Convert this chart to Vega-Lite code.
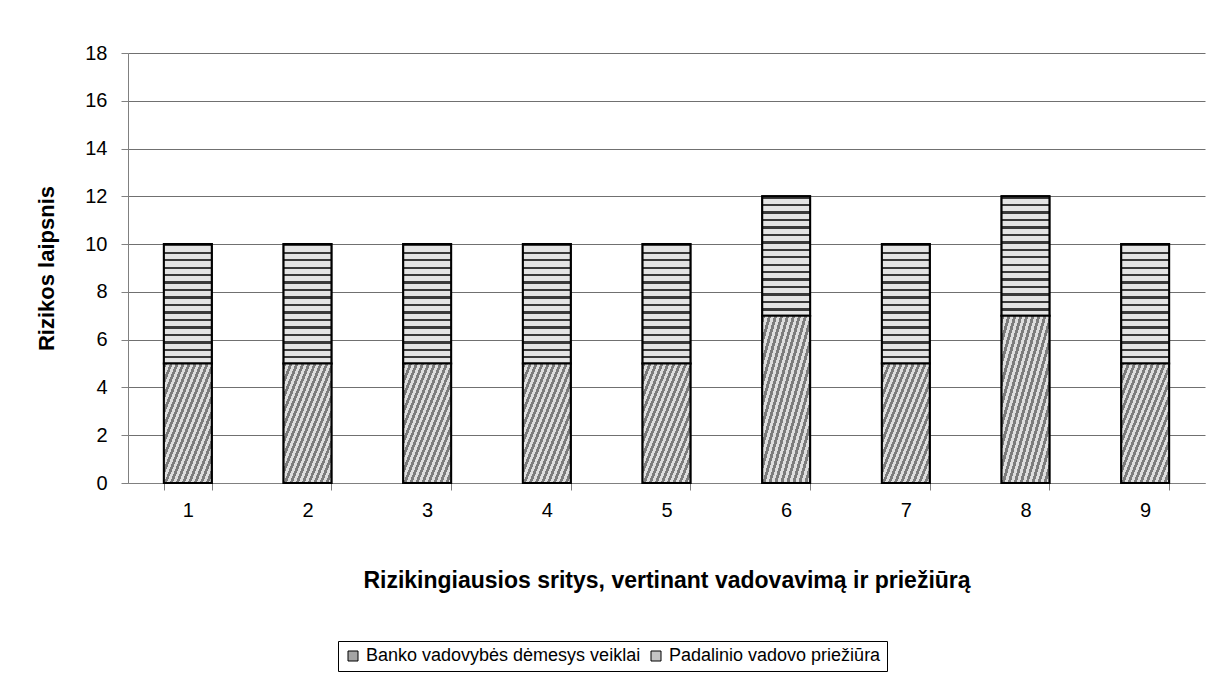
{
  "$schema": "https://vega.github.io/schema/vega-lite/v6.json",
  "autosize": {"type": "none"},
  "padding": {"left": 128, "top": 53, "right": 15, "bottom": 205},
  "width": 1077,
  "height": 430,
  "background": "white",
  "config": {
    "font": "Liberation Sans",
    "view": {"stroke": null},
    "axis": {"labelFont": "Liberation Sans", "titleFont": "Liberation Sans", "labelColor": "black", "titleColor": "black"}
  },
  "data": {
    "values": [
      {"cat": "1", "series": "Banko vadovybės dėmesys veiklai", "order": 1, "value": 5},
      {"cat": "1", "series": "Padalinio vadovo priežiūra", "order": 2, "value": 5},
      {"cat": "2", "series": "Banko vadovybės dėmesys veiklai", "order": 1, "value": 5},
      {"cat": "2", "series": "Padalinio vadovo priežiūra", "order": 2, "value": 5},
      {"cat": "3", "series": "Banko vadovybės dėmesys veiklai", "order": 1, "value": 5},
      {"cat": "3", "series": "Padalinio vadovo priežiūra", "order": 2, "value": 5},
      {"cat": "4", "series": "Banko vadovybės dėmesys veiklai", "order": 1, "value": 5},
      {"cat": "4", "series": "Padalinio vadovo priežiūra", "order": 2, "value": 5},
      {"cat": "5", "series": "Banko vadovybės dėmesys veiklai", "order": 1, "value": 5},
      {"cat": "5", "series": "Padalinio vadovo priežiūra", "order": 2, "value": 5},
      {"cat": "6", "series": "Banko vadovybės dėmesys veiklai", "order": 1, "value": 7},
      {"cat": "6", "series": "Padalinio vadovo priežiūra", "order": 2, "value": 5},
      {"cat": "7", "series": "Banko vadovybės dėmesys veiklai", "order": 1, "value": 5},
      {"cat": "7", "series": "Padalinio vadovo priežiūra", "order": 2, "value": 5},
      {"cat": "8", "series": "Banko vadovybės dėmesys veiklai", "order": 1, "value": 7},
      {"cat": "8", "series": "Padalinio vadovo priežiūra", "order": 2, "value": 5},
      {"cat": "9", "series": "Banko vadovybės dėmesys veiklai", "order": 1, "value": 5},
      {"cat": "9", "series": "Padalinio vadovo priežiūra", "order": 2, "value": 5}
    ]
  },
  "transform": [
    {"stack": "value", "groupby": ["cat"], "sort": [{"field": "order", "order": "ascending"}], "as": ["v0", "v1"]}
  ],
  "encoding": {
    "x": {
      "field": "cat", "type": "ordinal",
      "scale": {"paddingInner": 0.6, "paddingOuter": 0.3},
      "axis": {
        "title": "Rizikingiausios sritys, vertinant vadovavimą ir priežiūrą",
        "titleFontSize": 23, "titleFontWeight": "bold", "titlePadding": 49,
        "labelAngle": 0, "labelFontSize": 20, "labelPadding": 10,
        "tickSize": 7, "tickColor": "#808080", "domainColor": "#808080",
        "tickBand": "extent", "grid": false
      }
    },
    "y": {
      "field": "v1", "type": "quantitative",
      "scale": {"domain": [0, 18]},
      "axis": {
        "title": "Rizikos laipsnis",
        "titleFontSize": 22, "titleFontWeight": "bold", "titlePadding": 26,
        "values": [0, 2, 4, 6, 8, 10, 12, 14, 16, 18],
        "labelFontSize": 20, "labelPadding": 14,
        "tickSize": 7, "tickColor": "#808080", "domainColor": "#808080",
        "grid": true, "gridColor": "#707070", "gridWidth": 1
      }
    },
    "y2": {"field": "v0"}
  },
  "layer": [
    {
      "mark": {"type": "bar", "stroke": "black", "strokeWidth": 2},
      "encoding": {
        "color": {
          "field": "series", "type": "nominal",
          "scale": {
            "domain": ["Banko vadovybės dėmesys veiklai", "Padalinio vadovo priežiūra"],
            "range": ["#a4a4a4", "#c4c4c4"]
          },
          "legend": {
            "title": null, "orient": "none", "legendX": 210, "legendY": 588,
            "direction": "horizontal", "strokeColor": "black", "padding": 6,
            "symbolType": "square", "symbolSize": 100, "symbolStrokeColor": "black",
            "symbolStrokeWidth": 1, "labelFontSize": 18, "labelFont": "Liberation Sans",
            "labelColor": "black", "labelLimit": 400, "columnPadding": 6, "labelOffset": 4
          }
        }
      }
    },
    {
      "transform": [{"filter": "datum.order == 2"}],
      "mark": {
        "type": "bar", "stroke": "black", "strokeWidth": 2,
        "fill": {
          "gradient": "linear", "x1": 0, "y1": 0, "x2": 0, "y2": 1,
          "stops": [
            {"offset": 0, "color": "#3a3a3a"}, {"offset": 0.02, "color": "#3a3a3a"}, {"offset": 0.02, "color": "#e4e4e4"}, {"offset": 0.0625, "color": "#e4e4e4"},
            {"offset": 0.0625, "color": "#3a3a3a"}, {"offset": 0.0825, "color": "#3a3a3a"}, {"offset": 0.0825, "color": "#e4e4e4"}, {"offset": 0.125, "color": "#e4e4e4"},
            {"offset": 0.125, "color": "#3a3a3a"}, {"offset": 0.145, "color": "#3a3a3a"}, {"offset": 0.145, "color": "#e4e4e4"}, {"offset": 0.1875, "color": "#e4e4e4"},
            {"offset": 0.1875, "color": "#3a3a3a"}, {"offset": 0.2075, "color": "#3a3a3a"}, {"offset": 0.2075, "color": "#e4e4e4"}, {"offset": 0.25, "color": "#e4e4e4"},
            {"offset": 0.25, "color": "#3a3a3a"}, {"offset": 0.27, "color": "#3a3a3a"}, {"offset": 0.27, "color": "#e4e4e4"}, {"offset": 0.3125, "color": "#e4e4e4"},
            {"offset": 0.3125, "color": "#3a3a3a"}, {"offset": 0.3325, "color": "#3a3a3a"}, {"offset": 0.3325, "color": "#e4e4e4"}, {"offset": 0.375, "color": "#e4e4e4"},
            {"offset": 0.375, "color": "#3a3a3a"}, {"offset": 0.395, "color": "#3a3a3a"}, {"offset": 0.395, "color": "#e4e4e4"}, {"offset": 0.4375, "color": "#e4e4e4"},
            {"offset": 0.4375, "color": "#3a3a3a"}, {"offset": 0.4575, "color": "#3a3a3a"}, {"offset": 0.4575, "color": "#e4e4e4"}, {"offset": 0.5, "color": "#e4e4e4"},
            {"offset": 0.5, "color": "#3a3a3a"}, {"offset": 0.52, "color": "#3a3a3a"}, {"offset": 0.52, "color": "#e4e4e4"}, {"offset": 0.5625, "color": "#e4e4e4"},
            {"offset": 0.5625, "color": "#3a3a3a"}, {"offset": 0.5825, "color": "#3a3a3a"}, {"offset": 0.5825, "color": "#e4e4e4"}, {"offset": 0.625, "color": "#e4e4e4"},
            {"offset": 0.625, "color": "#3a3a3a"}, {"offset": 0.645, "color": "#3a3a3a"}, {"offset": 0.645, "color": "#e4e4e4"}, {"offset": 0.6875, "color": "#e4e4e4"},
            {"offset": 0.6875, "color": "#3a3a3a"}, {"offset": 0.7075, "color": "#3a3a3a"}, {"offset": 0.7075, "color": "#e4e4e4"}, {"offset": 0.75, "color": "#e4e4e4"},
            {"offset": 0.75, "color": "#3a3a3a"}, {"offset": 0.77, "color": "#3a3a3a"}, {"offset": 0.77, "color": "#e4e4e4"}, {"offset": 0.8125, "color": "#e4e4e4"},
            {"offset": 0.8125, "color": "#3a3a3a"}, {"offset": 0.8325, "color": "#3a3a3a"}, {"offset": 0.8325, "color": "#e4e4e4"}, {"offset": 0.875, "color": "#e4e4e4"},
            {"offset": 0.875, "color": "#3a3a3a"}, {"offset": 0.895, "color": "#3a3a3a"}, {"offset": 0.895, "color": "#e4e4e4"}, {"offset": 0.9375, "color": "#e4e4e4"},
            {"offset": 0.9375, "color": "#3a3a3a"}, {"offset": 0.9575, "color": "#3a3a3a"}, {"offset": 0.9575, "color": "#e4e4e4"}, {"offset": 1, "color": "#e4e4e4"}
          ]
        }
      }
    },
    {
      "transform": [{"filter": "datum.order == 1"}],
      "mark": {
        "type": "bar", "stroke": "black", "strokeWidth": 2,
        "fill": {
          "gradient": "linear", "x1": 0, "y1": 0, "x2": 1, "y2": 1,
          "stops": [
            {"offset": 0, "color": "#7c7c7c"}, {"offset": 0.03125, "color": "#7c7c7c"}, {"offset": 0.03125, "color": "#dedede"}, {"offset": 0.0625, "color": "#dedede"},
            {"offset": 0.0625, "color": "#7c7c7c"}, {"offset": 0.09375, "color": "#7c7c7c"}, {"offset": 0.09375, "color": "#dedede"}, {"offset": 0.125, "color": "#dedede"},
            {"offset": 0.125, "color": "#7c7c7c"}, {"offset": 0.15625, "color": "#7c7c7c"}, {"offset": 0.15625, "color": "#dedede"}, {"offset": 0.1875, "color": "#dedede"},
            {"offset": 0.1875, "color": "#7c7c7c"}, {"offset": 0.21875, "color": "#7c7c7c"}, {"offset": 0.21875, "color": "#dedede"}, {"offset": 0.25, "color": "#dedede"},
            {"offset": 0.25, "color": "#7c7c7c"}, {"offset": 0.28125, "color": "#7c7c7c"}, {"offset": 0.28125, "color": "#dedede"}, {"offset": 0.3125, "color": "#dedede"},
            {"offset": 0.3125, "color": "#7c7c7c"}, {"offset": 0.34375, "color": "#7c7c7c"}, {"offset": 0.34375, "color": "#dedede"}, {"offset": 0.375, "color": "#dedede"},
            {"offset": 0.375, "color": "#7c7c7c"}, {"offset": 0.40625, "color": "#7c7c7c"}, {"offset": 0.40625, "color": "#dedede"}, {"offset": 0.4375, "color": "#dedede"},
            {"offset": 0.4375, "color": "#7c7c7c"}, {"offset": 0.46875, "color": "#7c7c7c"}, {"offset": 0.46875, "color": "#dedede"}, {"offset": 0.5, "color": "#dedede"},
            {"offset": 0.5, "color": "#7c7c7c"}, {"offset": 0.53125, "color": "#7c7c7c"}, {"offset": 0.53125, "color": "#dedede"}, {"offset": 0.5625, "color": "#dedede"},
            {"offset": 0.5625, "color": "#7c7c7c"}, {"offset": 0.59375, "color": "#7c7c7c"}, {"offset": 0.59375, "color": "#dedede"}, {"offset": 0.625, "color": "#dedede"},
            {"offset": 0.625, "color": "#7c7c7c"}, {"offset": 0.65625, "color": "#7c7c7c"}, {"offset": 0.65625, "color": "#dedede"}, {"offset": 0.6875, "color": "#dedede"},
            {"offset": 0.6875, "color": "#7c7c7c"}, {"offset": 0.71875, "color": "#7c7c7c"}, {"offset": 0.71875, "color": "#dedede"}, {"offset": 0.75, "color": "#dedede"},
            {"offset": 0.75, "color": "#7c7c7c"}, {"offset": 0.78125, "color": "#7c7c7c"}, {"offset": 0.78125, "color": "#dedede"}, {"offset": 0.8125, "color": "#dedede"},
            {"offset": 0.8125, "color": "#7c7c7c"}, {"offset": 0.84375, "color": "#7c7c7c"}, {"offset": 0.84375, "color": "#dedede"}, {"offset": 0.875, "color": "#dedede"},
            {"offset": 0.875, "color": "#7c7c7c"}, {"offset": 0.90625, "color": "#7c7c7c"}, {"offset": 0.90625, "color": "#dedede"}, {"offset": 0.9375, "color": "#dedede"},
            {"offset": 0.9375, "color": "#7c7c7c"}, {"offset": 0.96875, "color": "#7c7c7c"}, {"offset": 0.96875, "color": "#dedede"}, {"offset": 1, "color": "#dedede"}
          ]
        }
      }
    }
  ]
}
